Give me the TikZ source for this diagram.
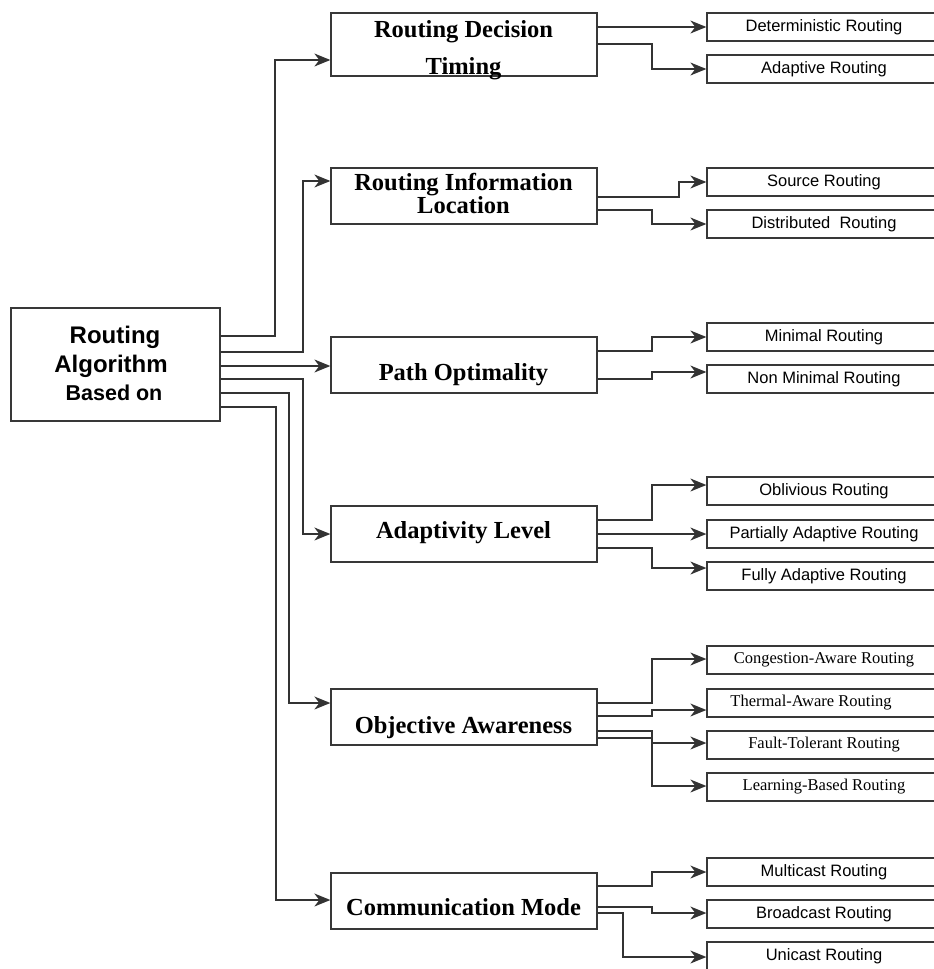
\documentclass[tikz,border=0pt]{standalone}
\usepackage{fontspec}
\setmainfont{Liberation Serif}
\newfontfamily\arialfont{Liberation Sans}
\usetikzlibrary{arrows.meta}
\begin{document}
\begin{tikzpicture}[x=1pt,y=-1pt,
  box/.style={draw=black!78,line width=1.3pt,inner sep=0pt},
  mid/.style={box,minimum width=266pt,minimum height=56pt},
  leaf/.style={box,minimum width=234pt,minimum height=28pt,font=\arialfont\fontsize{16.5}{18}\selectfont},
  sleaf/.style={leaf,font=\fontsize{16.5}{18}\selectfont},
  midtext/.style={anchor=base,font=\bfseries\fontsize{24.5}{26}\selectfont},
  link/.style={draw=black!80,line width=1.4pt},
  tip/.tip={Stealth[length=16pt,width=13pt,inset=5pt]}]
\useasboundingbox (0,0) rectangle (934,969);
\node[box,minimum width=209pt,minimum height=113pt] (root) at (115.5,364.5) {};
\node[anchor=base,font=\arialfont\bfseries\fontsize{24}{26}\selectfont] (t1) at (115,343) {Routing};
\node[anchor=base,font=\arialfont\bfseries\fontsize{24}{26}\selectfont] (t2) at (111,372) {Algorithm};
\node[anchor=base,font=\arialfont\bfseries\fontsize{21.5}{24}\selectfont] (t3) at (114,400) {Based on};

\node[mid,minimum height=63pt] (b1) at (464,44.5) {};
\node[mid] (b2) at (464,196) {};
\node[mid] (b3) at (464,365) {};
\node[mid] (b4) at (464,534) {};
\node[mid] (b5) at (464,717) {};
\node[mid] (b6) at (464,901) {};
\node[midtext] (m1a) at (463.5,37) {Routing Decision};
\node[midtext] (m1b) at (463.5,74) {Timing};
\node[midtext] (m2a) at (463.5,190) {Routing Information};
\node[midtext] (m2b) at (463.5,213) {Location};
\node[midtext] (m3) at (463.5,380) {Path Optimality};
\node[midtext] (m4) at (463.5,538) {Adaptivity Level};
\node[midtext] (m5) at (463.5,733) {Objective Awareness};
\node[midtext] (m6) at (463.5,915) {Communication Mode};

\node[leaf] (l11) at (824,27) {Deterministic Routing};
\node[leaf] (l12) at (824,69) {Adaptive Routing};
\node[leaf] (l21) at (824,182) {Source Routing};
\node[leaf] (l22) at (824,224) {Distributed\ \ Routing};
\node[leaf] (l31) at (824,337) {Minimal Routing};
\node[leaf] (l32) at (824,379) {Non Minimal Routing};
\node[leaf] (l41) at (824,491) {Oblivious Routing};
\node[leaf] (l42) at (824,534) {Partially Adaptive Routing};
\node[leaf] (l43) at (824,576) {Fully Adaptive Routing};
\node[sleaf] (l51) at (824,660) {Congestion-Aware Routing};
\node[sleaf] (l52) at (824,703) {\hspace*{-26pt}Thermal-Aware Routing};
\node[sleaf] (l53) at (824,745) {Fault-Tolerant Routing};
\node[sleaf] (l54) at (824,787) {Learning-Based Routing};
\node[leaf] (l61) at (824,872) {Multicast Routing};
\node[leaf] (l62) at (824,914) {Broadcast Routing};
\node[leaf] (l63) at (824,956) {Unicast Routing};

\draw[link,-tip] (root.east |- 0,336) -- (275,336) |- (b1.west |- 0,60);
\draw[link,-tip] (root.east |- 0,352) -- (303,352) |- (b2.west |- 0,181);
\draw[link,-tip] (root.east |- 0,366) -- (b3.west |- 0,366);
\draw[link,-tip] (root.east |- 0,379) -- (303,379) |- (b4.west |- 0,534);
\draw[link,-tip] (root.east |- 0,393) -- (289,393) |- (b5.west |- 0,703);
\draw[link,-tip] (root.east |- 0,407) -- (276,407) |- (b6.west |- 0,900);

\draw[link,-tip] (b1.east |- 0,27) -- (l11.west |- 0,27);
\draw[link,-tip] (b1.east |- 0,44) -- (652,44) |- (l12.west |- 0,69);
\draw[link,-tip] (b2.east |- 0,197) -- (679,197) |- (l21.west |- 0,182);
\draw[link,-tip] (b2.east |- 0,210) -- (652,210) |- (l22.west |- 0,224);
\draw[link,-tip] (b3.east |- 0,351) -- (652,351) |- (l31.west |- 0,337);
\draw[link,-tip] (b3.east |- 0,379) -- (652,379) |- (l32.west |- 0,372);
\draw[link,-tip] (b4.east |- 0,520) -- (652,520) |- (l41.west |- 0,485);
\draw[link,-tip] (b4.east |- 0,534) -- (l42.west |- 0,534);
\draw[link,-tip] (b4.east |- 0,548) -- (652,548) |- (l43.west |- 0,568);
\draw[link,-tip] (b5.east |- 0,703) -- (652,703) |- (l51.west |- 0,659);
\draw[link,-tip] (b5.east |- 0,716) -- (652,716) |- (l52.west |- 0,710);
\draw[link,-tip] (b5.east |- 0,731) -- (652,731) |- (l53.west |- 0,743);
\draw[link,-tip] (b5.east |- 0,738) -- (652,738) |- (l54.west |- 0,786);
\draw[link,-tip] (b6.east |- 0,886) -- (652,886) |- (l61.west |- 0,872);
\draw[link,-tip] (b6.east |- 0,907) -- (652,907) |- (l62.west |- 0,913);
\draw[link,-tip] (b6.east |- 0,913) -- (623,913) |- (l63.west |- 0,957);
\end{tikzpicture}
\end{document}
